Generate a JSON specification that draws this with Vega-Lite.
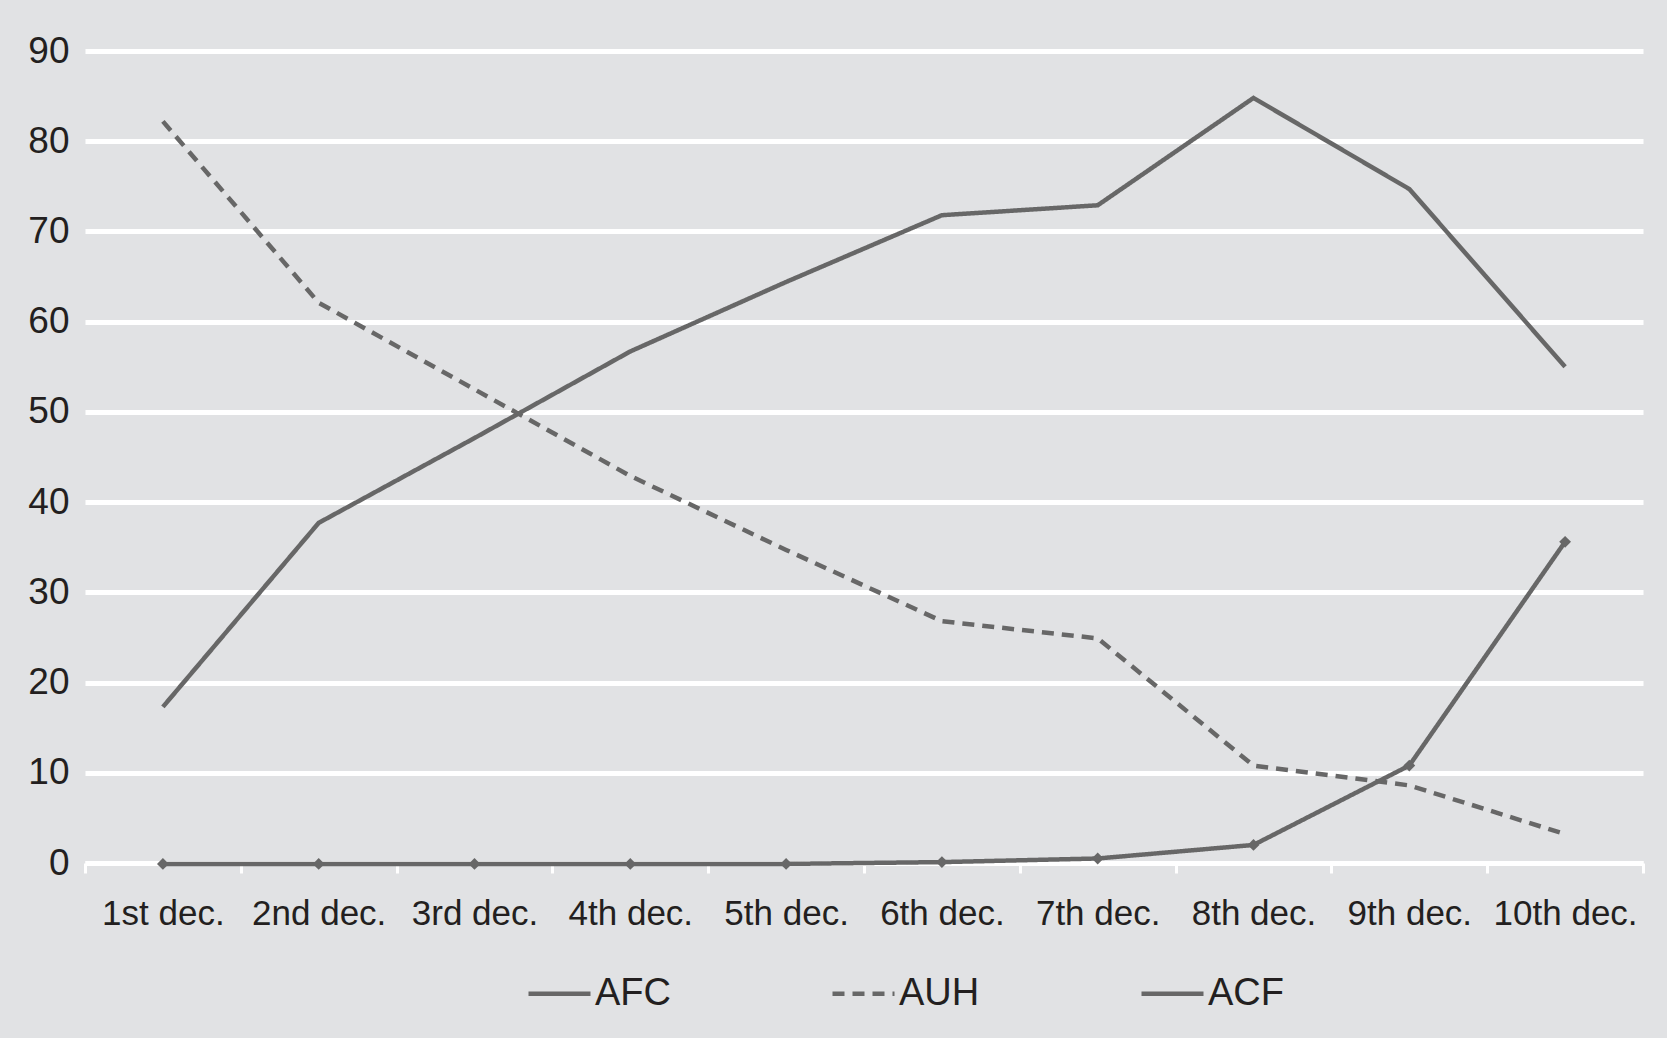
{
  "$schema": "https://vega.github.io/schema/vega-lite/v6.json",
  "autosize": {"type": "none"},
  "width": 1558,
  "height": 812,
  "padding": {"left": 85, "top": 51, "right": 24, "bottom": 175},
  "background": "#e1e2e4",
  "data": {
    "values": [
      {"decile": "1st dec.", "series": "AFC", "value": 17.3},
      {"decile": "2nd dec.", "series": "AFC", "value": 37.7},
      {"decile": "3rd dec.", "series": "AFC", "value": 47.1},
      {"decile": "4th dec.", "series": "AFC", "value": 56.7},
      {"decile": "5th dec.", "series": "AFC", "value": 64.4},
      {"decile": "6th dec.", "series": "AFC", "value": 71.8},
      {"decile": "7th dec.", "series": "AFC", "value": 72.9},
      {"decile": "8th dec.", "series": "AFC", "value": 84.8},
      {"decile": "9th dec.", "series": "AFC", "value": 74.7},
      {"decile": "10th dec.", "series": "AFC", "value": 55.0},
      {"decile": "1st dec.", "series": "AUH", "value": 82.2},
      {"decile": "2nd dec.", "series": "AUH", "value": 62.1},
      {"decile": "3rd dec.", "series": "AUH", "value": 52.5},
      {"decile": "4th dec.", "series": "AUH", "value": 42.9},
      {"decile": "5th dec.", "series": "AUH", "value": 34.7},
      {"decile": "6th dec.", "series": "AUH", "value": 26.8},
      {"decile": "7th dec.", "series": "AUH", "value": 24.9},
      {"decile": "8th dec.", "series": "AUH", "value": 10.8},
      {"decile": "9th dec.", "series": "AUH", "value": 8.6},
      {"decile": "10th dec.", "series": "AUH", "value": 3.2},
      {"decile": "1st dec.", "series": "ACF", "value": -0.1},
      {"decile": "2nd dec.", "series": "ACF", "value": -0.1},
      {"decile": "3rd dec.", "series": "ACF", "value": -0.1},
      {"decile": "4th dec.", "series": "ACF", "value": -0.1},
      {"decile": "5th dec.", "series": "ACF", "value": -0.1},
      {"decile": "6th dec.", "series": "ACF", "value": 0.1},
      {"decile": "7th dec.", "series": "ACF", "value": 0.5},
      {"decile": "8th dec.", "series": "ACF", "value": 2.0},
      {"decile": "9th dec.", "series": "ACF", "value": 10.8},
      {"decile": "10th dec.", "series": "ACF", "value": 35.6}
    ]
  },
  "encoding": {
    "x": {
      "field": "decile",
      "type": "nominal",
      "sort": null,
      "scale": {"type": "band", "paddingInner": 0, "paddingOuter": 0},
      "axis": {
        "title": null,
        "labelAngle": 0,
        "tickBand": "extent",
        "domainColor": "white",
        "domainWidth": 5,
        "tickColor": "white",
        "tickWidth": 3,
        "tickSize": 10,
        "labelPadding": 23,
        "labelFontSize": 35,
        "labelLimit": 0,
        "labelOverlap": false,
        "labelColor": "#231f20",
        "labelFont": "Liberation Sans, Arial, sans-serif"
      }
    },
    "y": {
      "field": "value",
      "type": "quantitative",
      "scale": {"domain": [0, 90], "nice": false},
      "axis": {
        "title": null,
        "values": [0, 10, 20, 30, 40, 50, 60, 70, 80, 90],
        "domain": false,
        "ticks": false,
        "gridColor": "white",
        "gridWidth": 5,
        "gridOpacity": 1,
        "labelPadding": 16,
        "labelFontSize": 37,
        "labelColor": "#231f20",
        "labelFont": "Liberation Sans, Arial, sans-serif"
      }
    }
  },
  "layer": [
    {
      "mark": {"type": "line", "color": "#676767", "strokeWidth": 4.5, "clip": false},
      "encoding": {
        "detail": {"field": "series"},
        "strokeDash": {
          "field": "series",
          "type": "nominal",
          "scale": {"domain": ["AFC", "AUH", "ACF"], "range": [[1, 0], [12, 8], [1, 0]]},
          "legend": {
            "title": null,
            "orient": "none",
            "direction": "horizontal",
            "legendX": 441,
            "legendY": 909,
            "symbolType": "stroke",
            "symbolSize": 3844,
            "symbolStrokeWidth": 4.5,
            "symbolStrokeColor": "#676767",
            "labelFontSize": 38,
            "labelColor": "#231f20",
            "labelFont": "Liberation Sans, Arial, sans-serif",
            "labelOffset": 2,
            "columnPadding": 152
          }
        }
      }
    },
    {
      "transform": [{"filter": "datum.series == 'ACF'"}],
      "mark": {"type": "point", "shape": "diamond", "filled": true, "size": 140, "color": "#676767", "opacity": 1, "clip": false}
    }
  ],
  "config": {
    "view": {"stroke": null},
    "axis": {"grid": true},
    "axisX": {"grid": false}
  }
}
